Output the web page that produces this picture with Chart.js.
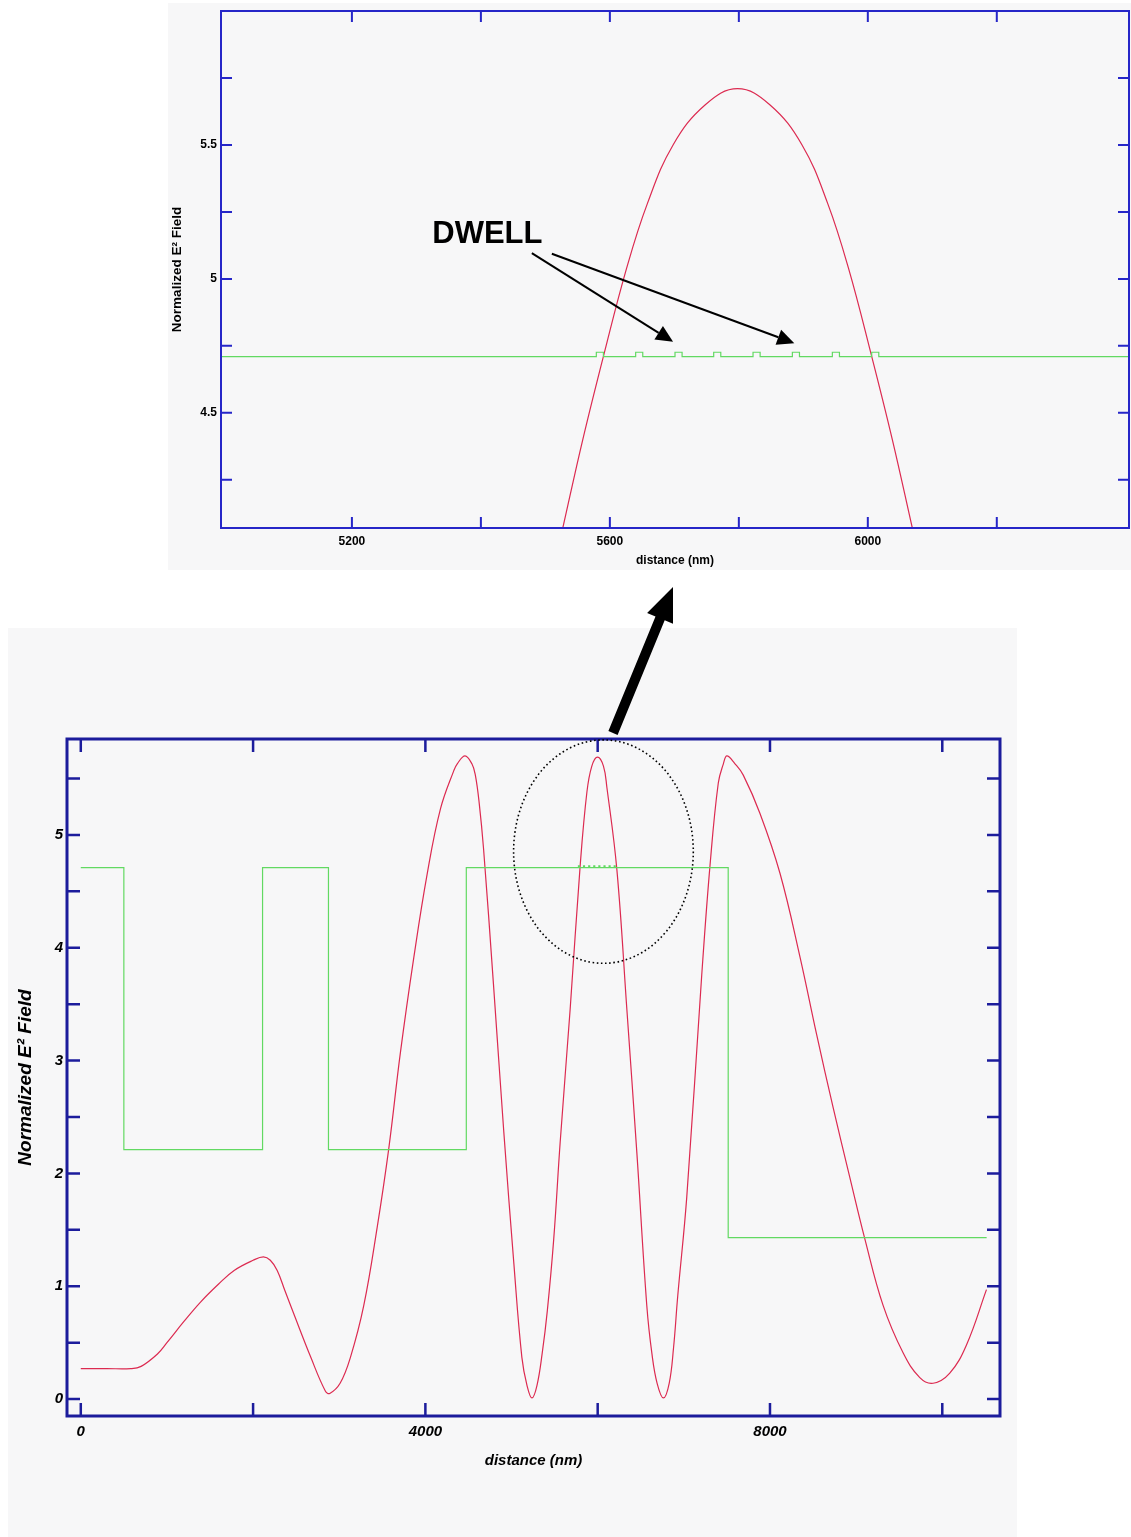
<!DOCTYPE html>
<html>
<head>
<meta charset="utf-8">
<script src="https://cdn.jsdelivr.net/npm/chart.js@4.4.1/dist/chart.umd.min.js"></script>
<style>
  html, body { margin: 0; padding: 0; background: #fff; }
  body { position: relative; width: 1131px; height: 1537px; overflow: hidden; }
  .panel { position: absolute; background: #f7f7f8; }
  #zoom-panel { left: 168px; top: 3px; width: 963px; height: 567px; }
  #full-panel { left: 8px; top: 628px; width: 1009px; height: 909px; }
  canvas { display: block; }
  #pointer { position: absolute; left: 0; top: 0; pointer-events: none; }
</style>
</head>
<body>
<div class="panel" id="zoom-panel"><canvas id="chart-zoom" width="963" height="567"></canvas></div>
<div class="panel" id="full-panel"><canvas id="chart-full" width="1009" height="909"></canvas></div>
<svg id="pointer" width="1131" height="1537"></svg>
<script>
// ---- full structure (distance in nm) ----
const FULL_FIELD_X = [
  0, 300, 580, 700, 890, 1000, 1200, 1390, 1600, 1780,
  2000, 2120, 2200, 2280, 2370, 2470, 2670, 2840, 2890, 3010,
  3130, 3285, 3440, 3575, 3710, 3865, 4020, 4175, 4330, 4370,
  4460, 4540, 4580, 4625, 4675, 4790, 4910, 5025, 5120, 5180,
  5237, 5295, 5355, 5415, 5490, 5565, 5680, 5797, 5875, 5932,
  5998, 6067, 6107, 6223, 6339, 6455, 6570, 6630, 6690, 6763,
  6830, 6880, 6930, 7034, 7208, 7304, 7400, 7459, 7500, 7594,
  7690, 7884, 8116, 8348, 8542, 8734, 8928, 9101, 9313, 9545,
  9739, 9893, 10087, 10281, 10513,
];
const FULL_FIELD_Y = [
  0.27, 0.27, 0.27, 0.29, 0.40, 0.50, 0.69, 0.86, 1.02, 1.14,
  1.23, 1.26, 1.23, 1.14, 0.96, 0.76, 0.37, 0.07, 0.05, 0.14,
  0.37, 0.83, 1.52, 2.22, 3.07, 3.91, 4.65, 5.23, 5.57, 5.63,
  5.70, 5.63, 5.53, 5.28, 4.88, 3.68, 2.37, 1.22, 0.37, 0.12,
  0.01, 0.12, 0.40, 0.78, 1.42, 2.28, 3.45, 4.73, 5.38, 5.61,
  5.69, 5.61, 5.42, 4.69, 3.45, 2.18, 0.83, 0.40, 0.14, 0.01,
  0.14, 0.45, 0.92, 1.79, 3.76, 4.73, 5.46, 5.63, 5.70, 5.63,
  5.53, 5.19, 4.66, 3.92, 3.23, 2.58, 1.96, 1.42, 0.83, 0.41,
  0.19, 0.14, 0.23, 0.48, 0.97,
];
// layer boundaries and refractive index profile (scaled)
const FULL_LAYER_EDGES = [0, 500, 2110, 2875, 4475, 7515, 10515];
const FULL_LAYER_LEVELS = [4.71, 2.21, 4.71, 2.21, 4.71, 1.43];
const FULL_WELLS = [5777, 5836, 5896, 5955, 6014, 6074, 6133, 6192];

const FULL_X_LABELS = [0, 4000, 8000];
const FULL_X_MINOR = [2000, 6000, 10000];
const FULL_Y_LABELS = [0, 1, 2, 3, 4, 5];
const FULL_Y_MINOR = [0.5, 1.5, 2.5, 3.5, 4.5, 5.5];

// ---- close-up around the active region ----
const ZOOM_FIELD_X = [5527, 5558, 5591, 5626, 5658, 5698, 5748, 5798, 5848, 5898, 5938, 5970, 6005, 6038, 6069];
const ZOOM_FIELD_Y = [4.07, 4.40, 4.72, 5.04, 5.28, 5.50, 5.65, 5.71, 5.65, 5.50, 5.28, 5.04, 4.72, 4.40, 4.07];
const ZOOM_LAYER_EDGES = [4900, 6500];
const ZOOM_LAYER_LEVELS = [4.71];
const ZOOM_WELLS = [5579, 5640, 5701, 5761, 5822, 5883, 5945, 6006];

const ZOOM_X_LABELS = [5200, 5600, 6000];
const ZOOM_X_MINOR = [5400, 5800, 6200];
const ZOOM_Y_LABELS = [4.5, 5, 5.5];
const ZOOM_Y_MINOR = [4.25, 4.75, 5.25, 5.75];

const WELL_WIDTH = 11;
const WELL_HEIGHT = 0.016;

const RED = "#dc2a50";
const GREEN = "#62d962";

Chart.defaults.font.family = '"Liberation Sans", Arial, Helvetica, sans-serif';
Chart.defaults.color = "#000";

function points(xs, ys) {
  return xs.map((x, i) => ({ x, y: ys[i] }));
}

// staircase through the layers, with the thin wells as small steps
function stepProfile(edges, levels, wells) {
  const pts = [];
  for (let i = 0; i < levels.length; i++) {
    const a = edges[i];
    const b = edges[i + 1];
    const v = levels[i];
    pts.push({ x: a, y: v });
    for (const w of wells) {
      if (w < a || w + WELL_WIDTH > b) continue;
      pts.push({ x: w, y: v }, { x: w, y: v + WELL_HEIGHT });
      pts.push({ x: w + WELL_WIDTH, y: v + WELL_HEIGHT }, { x: w + WELL_WIDTH, y: v });
    }
    pts.push({ x: b, y: v });
  }
  return pts;
}

// box around the plot with inward ticks on all four sides
const framePlugin = {
  id: "frame",
  afterDatasetsDraw(chart, args, o) {
    const { ctx, chartArea: a, scales } = chart;
    const x = scales.x;
    const y = scales.y;
    ctx.save();
    ctx.strokeStyle = o.color;
    ctx.lineWidth = o.tickWidth;
    ctx.beginPath();
    for (const v of o.xTicks) {
      const px = x.getPixelForValue(v);
      ctx.moveTo(px, a.bottom);
      ctx.lineTo(px, a.bottom - o.tickLength);
      ctx.moveTo(px, a.top);
      ctx.lineTo(px, a.top + o.tickLength);
    }
    for (const v of o.yTicks) {
      const py = y.getPixelForValue(v);
      ctx.moveTo(a.left, py);
      ctx.lineTo(a.left + o.tickLength, py);
      ctx.moveTo(a.right, py);
      ctx.lineTo(a.right - o.tickLength, py);
    }
    ctx.stroke();
    ctx.lineWidth = o.borderWidth;
    ctx.strokeRect(a.left, a.top, a.right - a.left, a.bottom - a.top);
    ctx.restore();
  },
};

function arrowHead(ctx, x0, y0, x1, y1, len, half) {
  const d = Math.hypot(x1 - x0, y1 - y0);
  const ux = (x1 - x0) / d;
  const uy = (y1 - y0) / d;
  const bx = x1 - ux * len;
  const by = y1 - uy * len;
  ctx.beginPath();
  ctx.moveTo(x0, y0);
  ctx.lineTo(bx, by);
  ctx.stroke();
  ctx.beginPath();
  ctx.moveTo(x1, y1);
  ctx.lineTo(bx - uy * half, by + ux * half);
  ctx.lineTo(bx + uy * half, by - ux * half);
  ctx.closePath();
  ctx.fill();
}

// text label, arrows and dotted ring placed in data coordinates
const calloutPlugin = {
  id: "callout",
  afterDraw(chart, args, o) {
    const { ctx, scales } = chart;
    const x = scales.x;
    const y = scales.y;
    ctx.save();
    ctx.fillStyle = "#000";
    ctx.strokeStyle = "#000";
    if (o.label) {
      ctx.font = o.label.font;
      ctx.textAlign = "center";
      ctx.textBaseline = "middle";
      ctx.fillText(o.label.text, x.getPixelForValue(o.label.x), y.getPixelForValue(o.label.y));
    }
    ctx.lineWidth = 2;
    for (const ar of o.arrows || []) {
      arrowHead(
        ctx,
        x.getPixelForValue(ar.from[0]), y.getPixelForValue(ar.from[1]),
        x.getPixelForValue(ar.to[0]), y.getPixelForValue(ar.to[1]),
        17, 8,
      );
    }
    if (o.ring) {
      const cx = x.getPixelForValue(o.ring.x);
      const cy = y.getPixelForValue(o.ring.y);
      const rx = x.getPixelForValue(o.ring.x + o.ring.rx) - cx;
      const ry = cy - y.getPixelForValue(o.ring.y + o.ring.ry);
      ctx.lineWidth = 1.6;
      ctx.setLineDash([1.6, 2.6]);
      ctx.beginPath();
      ctx.ellipse(cx, cy, rx, ry, 0, 0, Math.PI * 2);
      ctx.stroke();
    }
    ctx.restore();
  },
};

function fixedSize(size) {
  return (s) => {
    if (s.isHorizontal()) s.height = size;
    else s.width = size;
    s.paddingTop = s.paddingBottom = s.paddingLeft = s.paddingRight = 0;
  };
}

function setTicks(values) {
  return (s) => {
    s.ticks = values.map((value) => ({ value }));
  };
}

function buildChart(id, o) {
  return new Chart(document.getElementById(id), {
    type: "line",
    data: {
      datasets: [
        { data: o.index, borderColor: GREEN, borderWidth: 1.2, pointRadius: 0, tension: 0 },
        { data: o.field, borderColor: RED, borderWidth: 1.2, pointRadius: 0, tension: 0.4 },
      ],
    },
    options: {
      responsive: false,
      animation: false,
      events: [],
      layout: { padding: o.padding },
      plugins: {
        legend: { display: false },
        tooltip: { enabled: false },
        frame: o.frame,
        callout: o.callout,
      },
      scales: {
        x: {
          type: "linear",
          min: o.xRange[0],
          max: o.xRange[1],
          grid: { display: false, drawTicks: false },
          border: { display: false },
          afterBuildTicks: setTicks(o.xLabels),
          afterFit: fixedSize(o.xHeight),
          ticks: { font: o.tickFont, padding: o.xTickPad, maxRotation: 0, autoSkip: false, callback: (v) => String(v) },
          title: { display: true, text: "distance (nm)", font: o.xTitleFont, padding: { top: 0, bottom: o.xTitlePad } },
        },
        y: {
          type: "linear",
          min: o.yRange[0],
          max: o.yRange[1],
          grid: { display: false, drawTicks: false },
          border: { display: false },
          afterBuildTicks: setTicks(o.yLabels),
          afterFit: fixedSize(o.yWidth),
          ticks: { font: o.tickFont, padding: 4, autoSkip: false, callback: (v) => String(v) },
          title: { display: true, text: "Normalized E\u00b2 Field", font: o.yTitleFont, padding: { top: o.yTitlePad, bottom: 0 } },
        },
      },
    },
    plugins: [framePlugin, calloutPlugin],
  });
}

buildChart("chart-zoom", {
  field: points(ZOOM_FIELD_X, ZOOM_FIELD_Y),
  index: stepProfile(ZOOM_LAYER_EDGES, ZOOM_LAYER_LEVELS, ZOOM_WELLS),
  xRange: [4997, 6405],
  yRange: [4.07, 6.0],
  xLabels: ZOOM_X_LABELS,
  yLabels: ZOOM_Y_LABELS,
  padding: { top: 8, right: 2, left: 0, bottom: 0 },
  xHeight: 42,
  yWidth: 53,
  xTickPad: 6,
  tickFont: { size: 12, weight: "bold" },
  xTitleFont: { size: 12, weight: "bold" },
  yTitleFont: { size: 13.5, weight: "bold" },
  xTitlePad: 2,
  yTitlePad: 1,
  frame: {
    color: "#2626c8",
    borderWidth: 2,
    tickWidth: 2,
    tickLength: 11,
    xTicks: ZOOM_X_LABELS.concat(ZOOM_X_MINOR),
    yTicks: ZOOM_Y_LABELS.concat(ZOOM_Y_MINOR),
  },
  callout: {
    label: { text: "DWELL", x: 5410, y: 5.167, font: 'bold 31px "Liberation Sans", Arial, sans-serif' },
    arrows: [
      { from: [5479, 5.096], to: [5698, 4.765] },
      { from: [5510, 5.094], to: [5886, 4.76] },
    ],
  },
});

buildChart("chart-full", {
  field: points(FULL_FIELD_X, FULL_FIELD_Y),
  index: stepProfile(FULL_LAYER_EDGES, FULL_LAYER_LEVELS, FULL_WELLS),
  xRange: [-160, 10670],
  yRange: [-0.15, 5.85],
  xLabels: FULL_X_LABELS,
  yLabels: FULL_Y_LABELS,
  padding: { top: 111, right: 17, left: 0, bottom: 0 },
  xHeight: 121,
  yWidth: 59,
  xTickPad: 7,
  tickFont: { size: 15, weight: "bold", style: "italic" },
  xTitleFont: { size: 15, weight: "bold", style: "italic" },
  yTitleFont: { size: 19, weight: "bold", style: "italic" },
  xTitlePad: 67,
  yTitlePad: 6.6,
  frame: {
    color: "#1c1c9c",
    borderWidth: 3,
    tickWidth: 2.5,
    tickLength: 13,
    xTicks: FULL_X_LABELS.concat(FULL_X_MINOR),
    yTicks: FULL_Y_LABELS.concat(FULL_Y_MINOR),
  },
  callout: {
    ring: { x: 6067, y: 4.852, rx: 1043, ry: 0.99 },
  },
});

// heavy arrow linking the circled region to the close-up
function drawPointer(svg, tail, tip, shaft, headLen, headHalf) {
  const d = Math.hypot(tip[0] - tail[0], tip[1] - tail[1]);
  const ux = (tip[0] - tail[0]) / d;
  const uy = (tip[1] - tail[1]) / d;
  const bx = tip[0] - ux * headLen;
  const by = tip[1] - uy * headLen;
  const nx = -uy;
  const ny = ux;
  const p = (x, y) => `${x.toFixed(1)},${y.toFixed(1)}`;
  const body = [
    p(tail[0] + nx * shaft / 2, tail[1] + ny * shaft / 2),
    p(bx + nx * shaft / 2, by + ny * shaft / 2),
    p(bx + nx * headHalf, by + ny * headHalf),
    p(tip[0], tip[1]),
    p(bx - nx * headHalf, by - ny * headHalf),
    p(bx - nx * shaft / 2, by - ny * shaft / 2),
    p(tail[0] - nx * shaft / 2, tail[1] - ny * shaft / 2),
  ].join(" ");
  svg.innerHTML = `<polygon points="${body}" fill="#000"/>`;
}

drawPointer(document.getElementById("pointer"), [613, 733], [673, 587], 10, 34, 14);
</script>
</body>
</html>
